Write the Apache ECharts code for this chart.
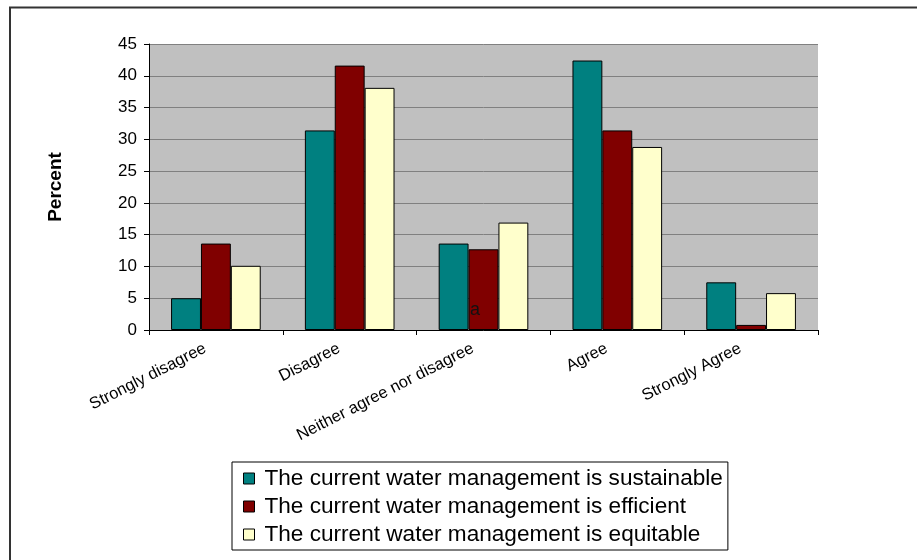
<!DOCTYPE html>
<html>
<head>
<meta charset="utf-8">
<script src="https://cdn.jsdelivr.net/npm/echarts@6/dist/echarts.min.js"></script>
<style>html,body{margin:0;padding:0;background:#fff}#c{width:917px;height:560px}</style>
</head>
<body>
<div id="c"></div>
<script>
var categories = ['Strongly disagree', 'Disagree', 'Neither agree nor disagree', 'Agree', 'Strongly Agree'];
var seriesNames = ['The current water management is sustainable', 'The current water management is efficient', 'The current water management is equitable'];
var sustainable = [5.0, 31.4, 13.6, 42.4, 7.5];
var efficient = [13.6, 41.6, 12.7, 31.4, 0.8];
var equitable = [10.1, 38.1, 16.9, 28.8, 5.8];
var yTicks = {min: 0, max: 45, interval: 5};

var FONT = "'Liberation Sans', Arial, sans-serif";
var colors = ['#008080', '#800000', '#FFFFCC'];
var values = [sustainable, efficient, equitable];

var chart = echarts.init(document.getElementById('c'));
chart.setOption({
  animation: false,
  textStyle: {fontFamily: FONT},
  grid: {left: 149, right: 99, top: 44, bottom: 230, show: true, backgroundColor: '#C0C0C0', borderWidth: 0},
  legend: {
    orient: 'vertical', left: 232, top: 462,
    padding: [5, 5, 4, 11],
    backgroundColor: '#fff', borderColor: '#000', borderWidth: 1, borderRadius: 0,
    itemWidth: 11, itemHeight: 11, itemGap: 5, itemTextGap: 13,
    icon: 'rect',
    itemStyle: {borderColor: '#000', borderWidth: 1},
    textStyle: {fontSize: 22.6, color: '#000', fontFamily: FONT, lineHeight: 23, padding: [0, 0, 0, 5]},
    data: seriesNames
  },
  xAxis: {
    type: 'category', data: categories,
    axisLine: {lineStyle: {color: '#000', width: 1}},
    axisTick: {show: true, length: 5, lineStyle: {color: '#000'}},
    axisLabel: {rotate: 27, fontSize: 16.5, color: '#000', margin: 12, fontFamily: FONT, interval: 0, padding: [0, 12, 0, 0]},
    splitLine: {show: false}
  },
  yAxis: {
    type: 'value', min: yTicks.min, max: yTicks.max, interval: yTicks.interval,
    name: 'Percent', nameLocation: 'middle', nameGap: 84, nameRotate: 90,
    nameTextStyle: {fontSize: 19, fontWeight: 'bold', color: '#000', fontFamily: FONT},
    axisLine: {show: true, lineStyle: {color: '#000', width: 1}},
    axisTick: {show: true, length: 5, lineStyle: {color: '#000'}},
    axisLabel: {fontSize: 17, color: '#000', margin: 12, fontFamily: FONT},
    splitLine: {show: true, lineStyle: {color: '#808080', width: 1}}
  },
  series: seriesNames.map(function (n, i) {
    return {
      name: n, type: 'bar', data: values[i],
      barGap: '0%', barCategoryGap: '33%',
      itemStyle: {color: colors[i], borderColor: '#000', borderWidth: 1}
    };
  }),
  graphic: [
    {type: 'line', shape: {x1: 9, y1: 7.5, x2: 917, y2: 7.5}, style: {stroke: '#333', lineWidth: 2}},
    {type: 'line', shape: {x1: 10, y1: 7, x2: 10, y2: 560}, style: {stroke: '#333', lineWidth: 2}},
    {type: 'text', left: 470, top: 301, z: 100, style: {text: 'a', fontSize: 18, fill: '#111', fontFamily: FONT}}
  ]
});
</script>
</body>
</html>
